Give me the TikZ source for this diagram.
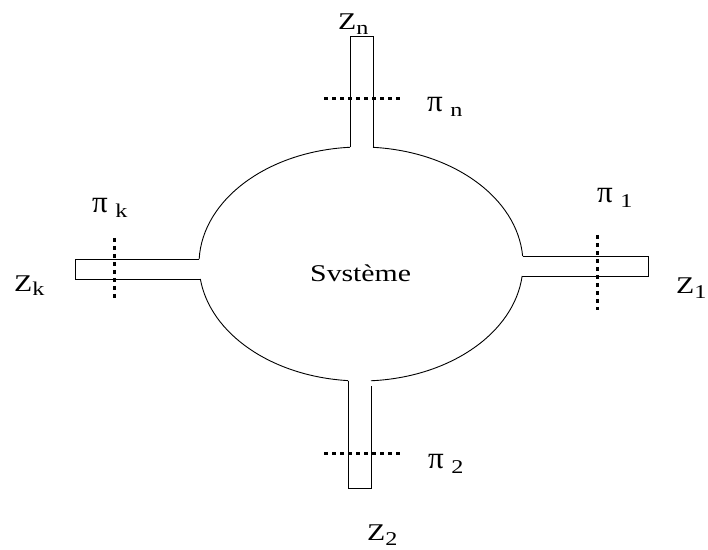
\documentclass[tikz,border=0pt]{standalone}
\usepackage{fontspec}
\setmainfont{Liberation Serif}
\newfontfamily\labfont[FakeStretch=1.24]{Liberation Serif}
\newcommand{\bigpi}{{\rmfamily\fontsize{31}{31}\selectfont π}}
\newcommand{\lowidx}[1]{\raisebox{-5pt}{\fontsize{19.5}{20}\selectfont #1}}
\begin{document}
\begin{tikzpicture}[x=1pt, y=1pt,
  wall/.style={line width=0.9pt},
  cut/.style={line width=3pt, dash pattern=on 4pt off 4pt},
  lab/.style={font=\labfont\fontsize{24}{26}\selectfont, inner sep=0pt, anchor=base west}]
\useasboundingbox (0,0) rectangle (708,549);
\coordinate (C) at (361,285);
% system boundary, open where the ducts join it
\foreach \a/\b in {3.9/85.75, 93.9/177.55, 187.37/265.4, 273.5/354.1}
  \draw[wall] (C) ++(\a:162pt and 117pt) arc[start angle=\a, end angle=\b, x radius=162pt, y radius=117pt];
% ducts
\draw[wall] (350,402) -- (350,513) -- (373,513) -- (373,402);
\draw[wall] (523,293) -- (648,293) -- (648,273) -- (522,273);
\draw[wall] (199,290) -- (75,290) -- (75,270) -- (200,270);
\draw[wall] (348,168) -- (348,61) -- (371,61) -- (371,163);
% cut sections
\draw[cut] (324,450) -- (400,450);
\draw[cut] (324,96) -- (400,96);
\draw[cut] (114,311) -- (114,249);
\draw[cut] (597,314) -- (597,239);
% labels
\node[lab] (sys) at (310,267) {Svstème};
\node[lab] (Zn) at (338,519) {Z\lowidx{n}};
\node[lab] (pin) at (427,437) {\bigpi\ \lowidx{n}};
\node[lab] (pik) at (92,336) {\bigpi\ \lowidx{k}};
\node[lab] (Zk) at (14,258) {Z\lowidx{k}};
\node[lab] (pi1) at (597,346) {\bigpi\ \lowidx{1}};
\node[lab] (Z1) at (676,255) {Z\lowidx{1}};
\node[lab] (pi2) at (428,81) {\bigpi\ \lowidx{2}};
\node[lab] (Z2) at (367,9) {Z\lowidx{2}};
\end{tikzpicture}
\end{document}
